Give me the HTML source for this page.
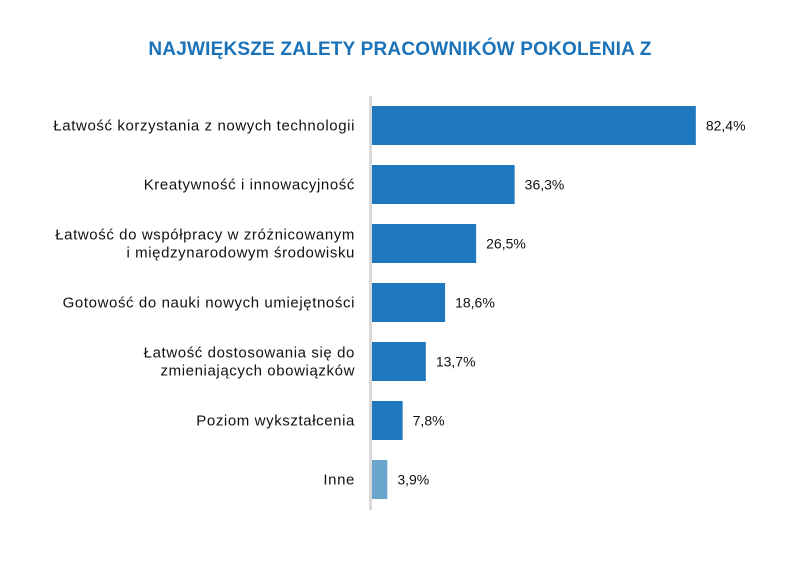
<!DOCTYPE html>
<html><head><meta charset="utf-8"><style>
body{margin:0;background:#fff;width:800px;height:576px;overflow:hidden;font-family:"Liberation Sans",sans-serif}
</style></head><body>
<svg id="chart" width="800" height="576" xmlns="http://www.w3.org/2000/svg">
<text x="400" y="55" text-anchor="middle" font-size="19" font-weight="bold" fill="#1a72b9" font-family="Liberation Sans, sans-serif" letter-spacing="0.2">NAJWIĘKSZE ZALETY PRACOWNIKÓW POKOLENIA Z</text>
<rect x="369" y="96" width="3" height="414" fill="#d9d9d9"/>
<g id="bars"></g>
</svg>
<script>
const categories = [
  ["Łatwość korzystania z nowych technologii"],
  ["Kreatywność i innowacyjność"],
  ["Łatwość do współpracy w zróżnicowanym","i międzynarodowym środowisku"],
  ["Gotowość do nauki nowych umiejętności"],
  ["Łatwość dostosowania się do","zmieniających obowiązków"],
  ["Poziom wykształcenia"],
  ["Inne"]
];
const values = [82.4, 36.3, 26.5, 18.6, 13.7, 7.8, 3.9];
const valueLabels = ["82,4%","36,3%","26,5%","18,6%","13,7%","7,8%","3,9%"];
const ns = "http://www.w3.org/2000/svg";
const g = document.getElementById('bars');
const x0 = 372, scale = 3.93;
const xS = v => v * scale;
const yC = i => 125.5 + i * 59;
const bh = 39;
values.forEach((v, i) => {
  const cy = yC(i);
  const r = document.createElementNS(ns, 'rect');
  
  
  r.setAttribute('x', x0);
  r.setAttribute('y', cy - bh / 2);
  r.setAttribute('width', xS(v));
  r.setAttribute('height', bh);
  r.setAttribute('fill', i === values.length - 1 ? '#6aa6cc' : '#1f78be');
  g.appendChild(r);
  const t = document.createElementNS(ns, 'text');
  
  
  t.setAttribute('x', x0 + xS(v) + 10);
  t.setAttribute('y', cy + 5);
  t.setAttribute('font-size', '14');
  t.setAttribute('fill', '#111');
  t.textContent = valueLabels[i];
  g.appendChild(t);
  const lines = categories[i];
  lines.forEach((ln, j) => {
    const c = document.createElementNS(ns, 'text');
    
    
    c.setAttribute('x', 355);
    c.setAttribute('y', cy + 5 + (j - (lines.length - 1) / 2) * 18);
    c.setAttribute('text-anchor', 'end');
    c.setAttribute('font-size', '15');
    c.setAttribute('letter-spacing', '0.6');
    c.setAttribute('fill', '#111');
    c.textContent = ln;
    g.appendChild(c);
  });
});
</script>
</body></html>
